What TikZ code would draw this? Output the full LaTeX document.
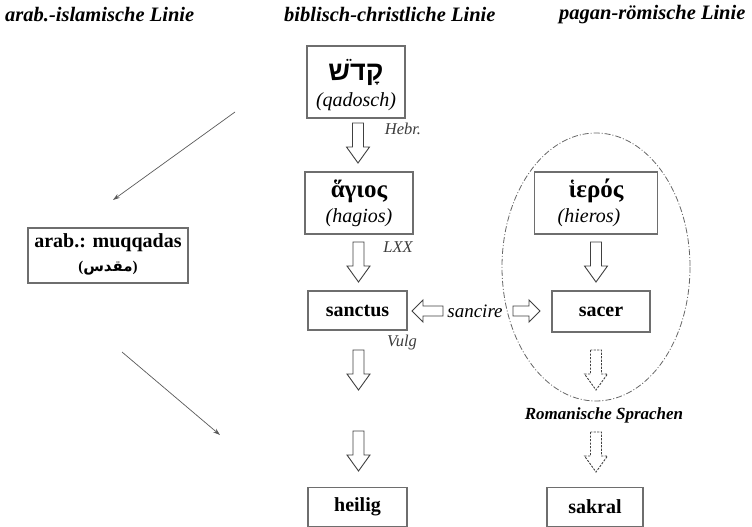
\documentclass[tikz,border=0pt]{standalone}
\usepackage{fontspec}
\setmainfont{Liberation Serif}
\newfontfamily\hebfont[Script=Hebrew]{Liberation Sans}
\newfontfamily\arabicfont[Script=Arabic]{DejaVu Sans}
\TeXXeTstate=1
\usetikzlibrary{arrows.meta}
\definecolor{boxgray}{HTML}{6E6E6E}
\definecolor{lblgray}{HTML}{3C3C3C}
\tikzset{
  wbox/.style={draw=boxgray, line width=1.2pt, fill=white, inner sep=0pt, align=center},
  txt/.style={inner sep=0pt},
  header/.style={font=\fontsize{20.5}{24}\selectfont\bfseries\itshape, anchor=west, inner sep=0pt},
  small/.style={font=\fontsize{16.5}{20}\selectfont\itshape, text=lblgray, inner sep=0pt},
  blk/.style={draw=black!75, line width=0.9pt, fill=white},
  dsh/.style={draw=black!75, line width=0.9pt, dash pattern=on 2.2pt off 1.3pt},
  thinarrow/.style={draw=black!65, line width=0.7pt, -{Stealth[length=7pt,width=4.5pt]}},
  pics/downarr/.style={code={\path[#1] (-5.5,0) -- (-5.5,24) -- (-11.5,24) -- (0,40) -- (11.5,24) -- (5.5,24) -- (5.5,0) -- cycle;}},
  pics/downarr/.default=blk,
  pics/leftarr/.style={code={\path[blk] (0,0) -- (11,-11) -- (11,-5) -- (31,-5) -- (31,5) -- (11,5) -- (11,11) -- cycle;}},
  pics/rightarr/.style={code={\path[blk] (0,0) -- (-11,-11) -- (-11,-5) -- (-27,-5) -- (-27,5) -- (-11,5) -- (-11,11) -- cycle;}},
}
\begin{document}
\begin{tikzpicture}[x=1pt,y=-1pt]
\useasboundingbox (0,0) rectangle (752,527);

% headers
\node[header] (h1) at (5,15) {arab.-islamische Linie};
\node[header] (h2) at (284,15) {biblisch-christliche Linie};
\node[header] (h3) at (559,15) {pagan-römische Linie};

% ellipse
\draw[draw=black!60, line width=0.8pt, dash pattern=on 6pt off 2pt on 1pt off 2pt] (596,267) ellipse [x radius=94, y radius=134];

% boxes
\node[wbox, minimum width=98pt, minimum height=72pt] (qad) at (356,82) {};
\node[txt] (qadh) at (356,72) {\fontsize{27}{30}\selectfont\hebfont\bfseries\beginR קָדֹשׁ\endR};
\node[txt] (qadl) at (356,102) {\fontsize{20}{24}\selectfont\itshape (qadosch)};

\node[wbox, minimum width=108pt, minimum height=62pt] (hag) at (359,203) {};
\node[txt] (hagg) at (359,191) {\fontsize{25}{28}\selectfont\bfseries ἅγιος};
\node[txt] (hagl) at (359,218) {\fontsize{20}{24}\selectfont\itshape (hagios)};

\node[wbox, minimum width=123pt, minimum height=62pt] (ier) at (596,203) {};
\node[txt] (ierg) at (596,191) {\fontsize{25}{28}\selectfont\bfseries ἱερός};
\node[txt] (ierl) at (589,218) {\fontsize{20}{24}\selectfont\itshape (hieros)};

\node[wbox, minimum width=99pt, minimum height=39pt, font=\fontsize{20}{24}\selectfont\bfseries] (sanctus) at (357.5,310.5) {sanctus};
\node[wbox, minimum width=98pt, minimum height=41pt, font=\fontsize{20}{24}\selectfont\bfseries] (sacer) at (601,311.5) {sacer};
\node[wbox, minimum width=99pt, minimum height=39pt, font=\fontsize{20}{24}\selectfont\bfseries] (heilig) at (357.5,507) {heilig};
\node[wbox, minimum width=96pt, minimum height=39pt, font=\fontsize{20}{24}\selectfont\bfseries] (sakral) at (595,507) {sakral};

\node[wbox, minimum width=160pt, minimum height=55pt] (arab) at (108,255.5) {};
\node[txt] (arabl) at (108,243) {\fontsize{20}{24}\selectfont\bfseries arab.: muqqadas};
\node[txt] (arabr) at (108,268) {\fontsize{15}{17}\selectfont\bfseries ({\arabicfont\bfseries\beginR مقدس\endR})};

% small labels
\node[small] (hebr) at (403,129) {Hebr.};
\node[small] (lxx) at (398,247) {LXX};
\node[small] (vulg) at (402,343) {Vulg};
\node[font=\fontsize{19}{22}\selectfont\itshape, inner sep=0pt] (sancire) at (475,311) {sancire};
\node[font=\fontsize{17}{20}\selectfont\bfseries\itshape, inner sep=0pt] (roman) at (604,415) {Romanische Sprachen};

% block arrows
\pic at (358,123) {downarr};
\pic at (358.5,242) {downarr};
\pic at (358.5,350) {downarr};
\pic at (358.5,431) {downarr};
\pic at (596,242) {downarr};
\pic at (596,350) {downarr=dsh};
\pic at (596,432) {downarr=dsh};
\pic at (412,311) {leftarr};
\pic at (540,311) {rightarr};

% thin diagonal arrows
\coordinate (d1s) at (235,112);
\coordinate (d1e) at (113,200);
\coordinate (d2s) at (122,352);
\coordinate (d2e) at (220,435);
\draw[thinarrow] (d1s) -- (d1e);
\draw[thinarrow] (d2s) -- (d2e);
\end{tikzpicture}
\end{document}
